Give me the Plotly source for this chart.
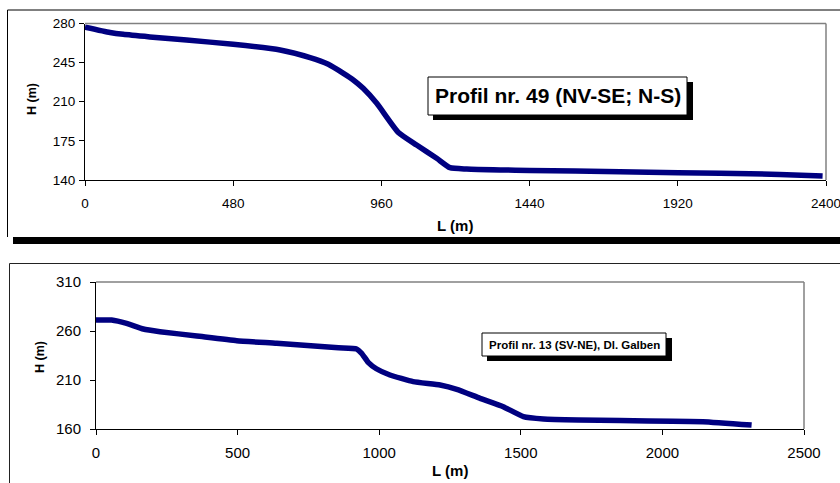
import plotly.graph_objects as go

W, H = 840, 483

# ---- data: top profile (Profil nr. 49) ----
top_L = [0, 81, 124, 210, 329, 480, 632, 729, 788, 837, 869, 901, 945, 1015,
         1074, 1139, 1182, 1236, 1344, 1440, 1733, 1921, 2057, 2250, 2389]
top_H = [276.8, 272, 270.3, 268, 265.2, 261.4, 256.3, 249.5, 243.5, 235.4, 229.5,
         222, 208.6, 182.5, 171.3, 159.4, 151, 149.8, 149, 148.6, 147.4, 146.5,
         146, 145, 143.6]
top_xticks = [0, 480, 960, 1440, 1920, 2400]
top_yticks = [140, 175, 210, 245, 280]

# ---- data: bottom profile (Profil nr. 13) ----
bot_L = [0, 55, 108, 167, 226, 356, 497, 638, 856, 920, 938, 961, 990, 1038,
         1120, 1215, 1274, 1356, 1438, 1509, 1580, 1703, 1850, 2143, 2315]
bot_H = [271.2, 271.2, 267.8, 262, 259.3, 254.9, 250.1, 247.4, 242.8, 241.6,
         237.2, 228, 221.5, 215.1, 208.3, 204.9, 200.5, 191.3, 182.8, 172.6,
         170.2, 169.2, 168.6, 167.5, 164]
bot_xticks = [0, 500, 1000, 1500, 2000, 2500]
bot_yticks = [160, 210, 260, 310]

title_top = "Profil nr. 49 (NV-SE; N-S)"
title_bot = "Profil nr. 13 (SV-NE), Dl. Galben"

FONT = "Liberation Sans, Arial, sans-serif"
NAVY = "#000080"


def px(x):
    return x / W


def py(y):
    return 1 - y / H


fig = go.Figure()
fig.add_trace(go.Scatter(x=top_L, y=top_H, mode="lines", xaxis="x", yaxis="y",
                         line=dict(color=NAVY, width=5.5, shape="spline",
                                   smoothing=0.5),
                         showlegend=False, hoverinfo="skip"))
fig.add_trace(go.Scatter(x=bot_L, y=bot_H, mode="lines", xaxis="x2", yaxis="y2",
                         line=dict(color=NAVY, width=5.5, shape="spline",
                                   smoothing=0.4),
                         showlegend=False, hoverinfo="skip"))

axis_common = dict(showgrid=False, zeroline=False, showline=True, automargin=False,
                   linecolor="black", linewidth=1, ticks="outside", ticklen=5,
                   tickcolor="black", tickwidth=1, ticklabeloverflow="allow")

# plot areas in pixels
T = dict(l=85, r=826, t=23.5, b=180)
B = dict(l=96, r=804, t=282, b=429)

fig.update_layout(
    width=W, height=H, autosize=False, margin=dict(l=0, r=0, t=0, b=0, pad=0),
    paper_bgcolor="white", plot_bgcolor="white",
    font=dict(family=FONT, color="black"),
    xaxis=dict(domain=[px(T["l"]), px(T["r"])], range=[0, 2400],
               tickvals=top_xticks, tickfont=dict(size=13.5),
               ticklabelstandoff=6, anchor="y", **axis_common),
    yaxis=dict(domain=[py(T["b"]), py(T["t"])], range=[140, 280],
               tickvals=top_yticks, tickfont=dict(size=13.5),
               ticklabelstandoff=1, anchor="x", **axis_common),
    xaxis2=dict(domain=[px(B["l"]), px(B["r"])], range=[0, 2500],
                tickvals=bot_xticks, tickfont=dict(size=15),
                ticklabelstandoff=5, anchor="y2", **axis_common),
    yaxis2=dict(domain=[py(B["b"]), py(B["t"])], range=[160, 310],
                tickvals=bot_yticks, tickfont=dict(size=15),
                ticklabelstandoff=6, anchor="x2", **axis_common),
)

shapes = []
# gray top/right plot-area borders
for P in (T, B):
    shapes.append(dict(type="line", xref="paper", yref="paper",
                       x0=px(P["l"]), x1=px(P["r"]), y0=py(P["t"]), y1=py(P["t"]),
                       line=dict(color="#808080", width=1.5)))
    shapes.append(dict(type="line", xref="paper", yref="paper",
                       x0=px(P["r"]), x1=px(P["r"]), y0=py(P["t"]), y1=py(P["b"]),
                       line=dict(color="#808080", width=1.5)))

# outer chart frames
shapes.append(dict(type="rect", xref="paper", yref="paper",
                   x0=px(13), x1=px(850), y0=py(244), y1=py(237),
                   fillcolor="black", line=dict(width=0)))
shapes.append(dict(type="line", xref="paper", yref="paper",
                   x0=px(7.5), x1=px(7.5), y0=py(10), y1=py(237),
                   line=dict(color="black", width=1)))
shapes.append(dict(type="line", xref="paper", yref="paper",
                   x0=px(7.5), x1=px(850), y0=py(10), y1=py(10),
                   line=dict(color="black", width=1)))
shapes.append(dict(type="line", xref="paper", yref="paper",
                   x0=px(9.5), x1=px(9.5), y0=py(263.5), y1=py(495),
                   line=dict(color="#222", width=1)))
shapes.append(dict(type="line", xref="paper", yref="paper",
                   x0=px(9.5), x1=px(850), y0=py(263.5), y1=py(263.5),
                   line=dict(color="#222", width=1)))

# label boxes with shadows
for (x0, y0, x1, y1) in [(428, 77, 687, 115), (482, 333, 666, 356)]:
    shapes.append(dict(type="rect", xref="paper", yref="paper",
                       x0=px(x0 + 5), x1=px(x1 + 6), y0=py(y1 + 5), y1=py(y0 + 5),
                       fillcolor="black", line=dict(width=0)))
    shapes.append(dict(type="rect", xref="paper", yref="paper",
                       x0=px(x0), x1=px(x1), y0=py(y1), y1=py(y0),
                       fillcolor="white", line=dict(color="black", width=1)))
fig.update_layout(shapes=shapes)

C = dict(xref="paper", yref="paper", showarrow=False, xanchor="center",
         yanchor="middle")
ann = []
ann.append(dict(text="<b>" + title_top + "</b>", x=px(557.5), y=py(96),
                font=dict(size=21, family=FONT), **C))
ann.append(dict(text="<b>" + title_bot + "</b>", x=px(574), y=py(344.5),
                font=dict(size=11.5, family=FONT), **C))
# axis titles
ann.append(dict(text="<b>L (m)</b>", x=px(455.5), y=py(225.5),
                font=dict(size=15, family=FONT), **C))
ann.append(dict(text="<b>H (m)</b>", x=px(32), y=py(99), textangle=-90,
                font=dict(size=12.5, family=FONT), **C))
ann.append(dict(text="<b>L (m)</b>", x=px(450), y=py(470),
                font=dict(size=15, family=FONT), **C))
ann.append(dict(text="<b>H (m)</b>", x=px(40), y=py(357), textangle=-90,
                font=dict(size=12.5, family=FONT), **C))
fig.update_layout(annotations=ann)

fig.write_html("out.html", config={"displayModeBar": False},
               post_script="document.body.style.margin='0';")
